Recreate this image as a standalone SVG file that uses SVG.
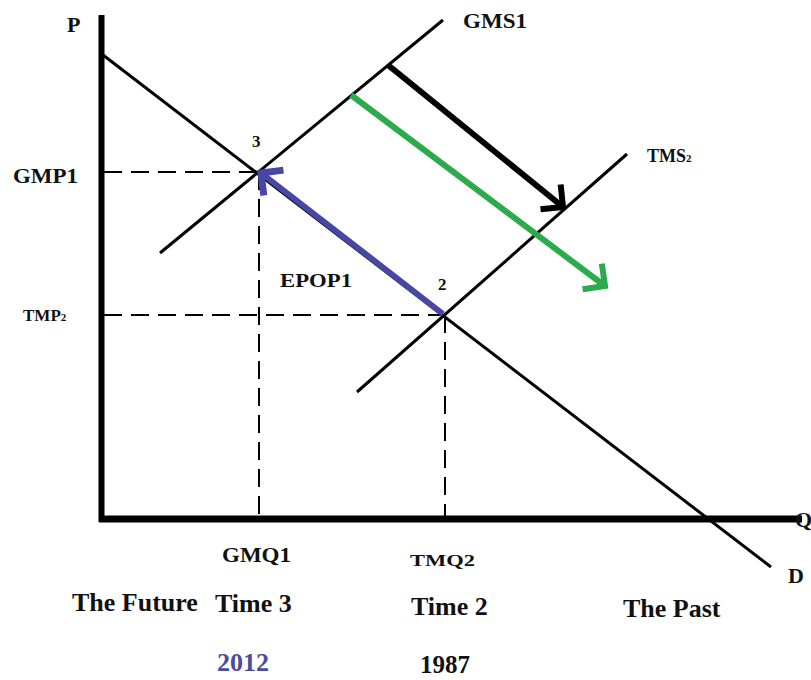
<svg xmlns="http://www.w3.org/2000/svg" width="811" height="680" viewBox="0 0 811 680">
<style>
.t{font-family:"Liberation Serif","Times New Roman",serif;font-weight:bold;fill:#111}
.ax{stroke:#000;fill:none;stroke-linecap:butt}
.ln{stroke:#000;stroke-width:3;fill:none}
.dash{stroke:#000;stroke-width:2;stroke-dasharray:18 9;fill:none}
</style>
<defs>
<marker id="hk" markerUnits="userSpaceOnUse" markerWidth="40" markerHeight="40" refX="22" refY="20" orient="auto" overflow="visible">
<path d="M6,4 L22,20 L6,36" fill="none" stroke="#000" stroke-width="6"/>
</marker>
<marker id="hg" markerUnits="userSpaceOnUse" markerWidth="40" markerHeight="40" refX="22" refY="20" orient="auto" overflow="visible">
<path d="M6,4 L22,20 L6,36" fill="none" stroke="#2bab4b" stroke-width="6"/>
</marker>
<marker id="hb" markerUnits="userSpaceOnUse" markerWidth="40" markerHeight="40" refX="22" refY="20" orient="auto" overflow="visible">
<path d="M6,4 L22,20 L6,36" fill="none" stroke="#4747a6" stroke-width="7"/>
</marker>
</defs>
<rect width="811" height="680" fill="#fff"/>
<g id="axes">
<line class="ax" x1="101.5" y1="15" x2="101.5" y2="522" stroke-width="6"/>
<line class="ax" x1="99" y1="519" x2="802" y2="519" stroke-width="7"/>
</g>
<g id="guides">
<line class="dash" x1="104" y1="172" x2="259" y2="172"/>
<line class="dash" x1="259" y1="172" x2="259" y2="516"/>
<line class="dash" x1="104" y1="315" x2="445" y2="315"/>
<line class="dash" x1="445" y1="315" x2="445" y2="516"/>
</g>
<g id="curves">
<line id="demand" class="ln" x1="103" y1="55" x2="771" y2="567"/>
<line id="gms1" class="ln" x1="160" y1="253" x2="443" y2="20"/>
<line id="tms2" class="ln" x1="357" y1="392" x2="627" y2="154"/>
</g>
<g id="connectors">
<line x1="388" y1="65" x2="563" y2="207" stroke="#000" stroke-width="6" marker-end="url(#hk)"/>
<line x1="351" y1="95" x2="605" y2="286" stroke="#2bab4b" stroke-width="6" marker-end="url(#hg)"/>
<line x1="443" y1="314" x2="261" y2="173" stroke="#4747a6" stroke-width="6" marker-end="url(#hb)"/>
</g>
<g id="labels">
<text class="t" x="67" y="32" font-size="22">P</text>
<text class="t" x="463" y="28" font-size="21" textLength="64" lengthAdjust="spacingAndGlyphs">GMS1</text>
<text class="t" x="647" y="162" font-size="18">TMS<tspan font-size="11">2</tspan></text>
<text class="t" x="13" y="183" font-size="22" textLength="65" lengthAdjust="spacingAndGlyphs">GMP1</text>
<text class="t" x="23" y="321" font-size="17">TMP<tspan font-size="11">2</tspan></text>
<text class="t" x="252" y="147" font-size="17">3</text>
<text class="t" x="438" y="290" font-size="17">2</text>
<text class="t" x="280" y="287" font-size="18" textLength="72" lengthAdjust="spacingAndGlyphs">EPOP1</text>
<text class="t" x="795" y="527" font-size="22">Q</text>
<text class="t" x="788" y="583" font-size="22">D</text>
<text class="t" x="222" y="562" font-size="20" textLength="69" lengthAdjust="spacingAndGlyphs">GMQ1</text>
<text class="t" x="410" y="566" font-size="17" textLength="65" lengthAdjust="spacingAndGlyphs">TMQ2</text>
<text class="t" x="72" y="611" font-size="26">The Future</text>
<text class="t" x="215" y="612" font-size="26">Time 3</text>
<text class="t" x="411" y="615" font-size="26">Time 2</text>
<text class="t" x="623" y="617" font-size="26">The Past</text>
<text class="t" x="217" y="671" font-size="26" style="fill:#4b4b9b">2012</text>
<text class="t" x="420" y="673" font-size="25">1987</text>
</g>
</svg>
